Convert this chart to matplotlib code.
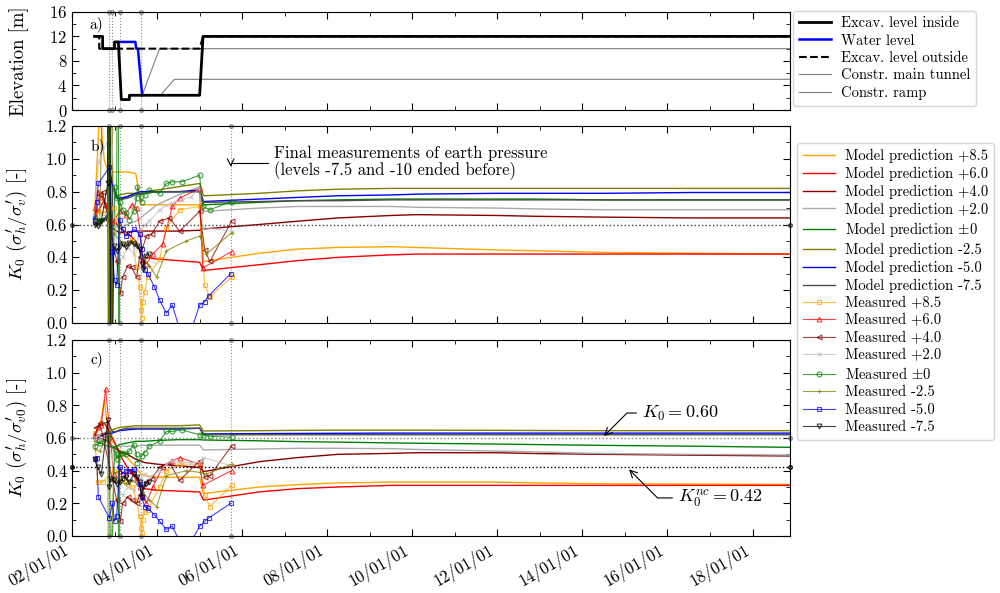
import numpy as np
import matplotlib
matplotlib.use("Agg")
import matplotlib.pyplot as plt
import matplotlib.dates as mdates
from datetime import datetime, timedelta

plt.rcParams['font.family'] = ['cmr10', 'DejaVu Serif']
plt.rcParams['mathtext.fontset'] = 'cm'
plt.rcParams['axes.formatter.use_mathtext'] = True
plt.rcParams['axes.unicode_minus'] = False

# ---- panel a: construction stages (decimal years, elevation in m)
t_exc_in = [2002.53, 2002.72, 2002.72, 2003.00, 2003.00, 2003.09, 2003.16, 2003.35, 2003.35, 2005.00, 2005.08, 2018.88]
z_exc_in = [12.0, 12.0, 10.0, 10.0, 11.1, 11.1, 1.7, 1.7, 2.4, 2.4, 12.0, 12.0]
t_water = [2003.12, 2003.49, 2003.51, 2003.55, 2003.60, 2003.65]
z_water = [11.1, 11.1, 10.0, 10.0, 6.2, 2.4]
t_exc_out = [2002.53, 2002.64, 2002.64, 2005.00, 2005.08, 2018.88]
z_exc_out = [12.0, 12.0, 10.0, 10.0, 12.0, 12.0]
t_tunnel = [2003.65, 2004.06, 2018.88]
z_tunnel = [2.4, 10.0, 10.0]
t_ramp = [2004.08, 2004.41, 2018.88]
z_ramp = [2.4, 5.0, 5.0]

events_a = [2002.88, 2002.93, 2003.14, 2003.63]
events_bc = [2002.88, 2003.14, 2003.63, 2005.73]

levels = ['+8.5', '+6.0', '+4.0', '+2.0', r'$\pm$0', '-2.5', '-5.0', '-7.5']
mod_colors = ['orange', 'red', 'darkred', 'darkgray', 'green', 'olive', 'blue', '0.3']
meas_colors = ['orange', 'red', 'darkred', 'silver', 'green', 'olive', 'blue', 'black']
meas_markers = ['s', '^', '<', 'x', 'o', '+', 's', 'v']

# ---- model predictions (common time grid)
t_model = [2002.53, 2002.65, 2002.76, 2002.84, 2002.88, 2002.91, 2002.95, 2003.05, 2003.12,
           2003.30, 2003.50, 2003.62, 2003.70, 2004.00, 2004.50, 2005.00, 2005.09, 2006.40,
           2007.30, 2008.25, 2009.50, 2010.10, 2012.00, 2012.90, 2014.50, 2016.60, 2018.88]

mb_85 = [0.66, 1.30, 0.99, 0.93, 0.92, 0.92, 0.92, 0.92, 0.92, 0.92, 0.91, 0.72, 0.72, 0.72, 0.72, 0.72, 0.374, 0.425, 0.45, 0.46, 0.465, 0.46, 0.445, 0.44, 0.43, 0.425, 0.42]
mb_60 = [0.62, 0.70, 0.75, 0.68, 0.65, 0.63, 0.62, 0.60, 0.58, 0.55, 0.50, 0.42, 0.40, 0.39, 0.38, 0.37, 0.32, 0.355, 0.38, 0.40, 0.415, 0.42, 0.42, 0.42, 0.42, 0.42, 0.42]
mb_40 = [0.60, 0.62, 0.64, 0.62, 0.60, 0.60, 0.58, 0.56, 0.55, 0.55, 0.56, 0.56, 0.56, 0.56, 0.56, 0.565, 0.573, 0.60, 0.62, 0.64, 0.655, 0.66, 0.655, 0.65, 0.645, 0.64, 0.64]
mb_20 = [0.62, 0.63, 0.64, 0.65, 0.62, 0.62, 0.60, 0.58, 0.58, 0.60, 0.62, 0.64, 0.66, 0.72, 0.78, 0.83, 0.68, 0.70, 0.71, 0.71, 0.71, 0.705, 0.70, 0.695, 0.69, 0.69, 0.69]
mb_00 = [0.62, 0.62, 0.63, 0.65, 3.00, -1.0, 0.85, 0.76, 0.75, 0.77, 0.79, 0.78, 0.79, 0.80, 0.80, 0.80, 0.72, 0.735, 0.745, 0.75, 0.755, 0.755, 0.755, 0.755, 0.75, 0.75, 0.75]
mb_m25 = [0.62, 0.62, 0.63, 0.66, -1.0, 3.00, 0.85, 0.78, 0.78, 0.79, 0.79, 0.79, 0.80, 0.81, 0.83, 0.85, 0.775, 0.79, 0.805, 0.815, 0.82, 0.82, 0.82, 0.82, 0.82, 0.82, 0.82]
mb_m50 = [0.62, 0.62, 0.63, 0.66, 0.95, 0.90, 0.83, 0.77, 0.76, 0.77, 0.79, 0.80, 0.80, 0.80, 0.80, 0.81, 0.74, 0.755, 0.765, 0.775, 0.78, 0.785, 0.79, 0.79, 0.79, 0.795, 0.795]
mb_m75 = [0.60, 0.61, 0.62, 0.65, 3.00, -1.0, 0.83, 0.76, 0.75, 0.76, 0.78, 0.79, 0.79, 0.80, 0.80, 0.80, 0.735, 0.74, 0.745, 0.745, 0.75, 0.75, 0.75, 0.75, 0.75, 0.75, 0.75]

mc_85 = [0.63, 0.66, 0.83, 0.66, 0.62, 0.60, 0.58, 0.55, 0.52, 0.48, 0.42, 0.38, 0.37, 0.36, 0.36, 0.36, 0.26, 0.30, 0.315, 0.325, 0.33, 0.33, 0.33, 0.325, 0.32, 0.318, 0.316]
mc_60 = [0.66, 0.68, 0.69, 0.66, 0.64, 0.62, 0.60, 0.55, 0.50, 0.42, 0.35, 0.31, 0.29, 0.28, 0.275, 0.27, 0.22, 0.27, 0.29, 0.30, 0.31, 0.31, 0.31, 0.31, 0.31, 0.31, 0.31]
mc_40 = [0.60, 0.60, 0.59, 0.58, 0.57, 0.56, 0.55, 0.53, 0.52, 0.50, 0.47, 0.46, 0.45, 0.44, 0.43, 0.42, 0.394, 0.455, 0.48, 0.50, 0.506, 0.51, 0.51, 0.505, 0.50, 0.495, 0.49]
mc_20 = [0.60, 0.59, 0.58, 0.57, 0.56, 0.56, 0.55, 0.55, 0.55, 0.55, 0.55, 0.555, 0.555, 0.556, 0.556, 0.556, 0.527, 0.533, 0.537, 0.537, 0.535, 0.53, 0.52, 0.515, 0.505, 0.50, 0.496]
mc_00 = [0.58, 0.57, 0.56, 0.55, 0.55, 0.55, 0.54, 0.55, 0.56, 0.57, 0.58, 0.58, 0.58, 0.585, 0.59, 0.59, 0.588, 0.583, 0.578, 0.575, 0.57, 0.568, 0.563, 0.56, 0.555, 0.55, 0.543]
mc_m25 = [0.62, 0.62, 0.63, 0.64, 0.64, 0.64, 0.65, 0.66, 0.665, 0.67, 0.675, 0.675, 0.675, 0.675, 0.675, 0.68, 0.643, 0.645, 0.647, 0.648, 0.648, 0.648, 0.647, 0.646, 0.645, 0.645, 0.645]
mc_m50 = [0.60, 0.61, 0.62, 0.63, 0.63, 0.63, 0.63, 0.64, 0.645, 0.65, 0.655, 0.655, 0.655, 0.655, 0.655, 0.66, 0.625, 0.627, 0.628, 0.629, 0.63, 0.63, 0.63, 0.63, 0.63, 0.63, 0.63]
mc_m75 = [0.66, 0.68, 0.69, 0.70, 0.68, 0.66, 0.64, 0.64, 0.65, 0.66, 0.66, 0.66, 0.66, 0.66, 0.66, 0.66, 0.62, 0.62, 0.62, 0.62, 0.62, 0.62, 0.62, 0.62, 0.62, 0.62, 0.62]

# ---- measurements (times shared by panel b and c)
t_85 = [2002.53, 2002.60, 2002.72, 2002.98, 2003.09, 2003.26, 2003.42, 2003.52, 2003.59, 2003.62, 2003.64,
        2003.66, 2003.71, 2003.78, 2004.06, 2004.22, 2004.53, 2005.00, 2005.12, 2005.24, 2005.75]
kb_85 = [0.66, 0.68, 0.67, 0.70, 0.62, 0.55, 0.50, 0.34, 0.22, 0.08, 0.03, 0.13, 0.19, 0.28, 0.39, 0.58, 0.69, 0.71, 0.23, 0.16, 0.28]
kc_85 = [0.63, 0.33, 0.33, 0.40, 0.35, 0.33, 0.30, 0.22, 0.12, 0.05, 0.02, 0.10, 0.15, 0.16, 0.30, 0.40, 0.44, 0.44, 0.25, 0.18, 0.31]

t_60 = [2002.53, 2002.62, 2002.69, 2002.79, 2002.98, 2003.12, 2003.26, 2003.40, 2003.52, 2003.61,
        2003.66, 2003.75, 2003.90, 2004.13, 2004.36, 2004.53, 2005.00, 2005.07, 2005.75]
kb_60 = [0.70, 0.80, 0.77, 0.72, 0.62, 0.68, 0.66, 0.72, 0.70, 0.55, 0.38, 0.36, 0.42, 0.48, 0.71, 0.76, 0.82, 0.335, 0.435]
kc_60 = [0.62, 0.67, 0.68, 0.90, 0.38, 0.40, 0.38, 0.40, 0.35, 0.30, 0.24, 0.20, 0.30, 0.42, 0.46, 0.48, 0.44, 0.31, 0.40]

t_40 = [2002.53, 2002.65, 2002.72, 2003.05, 2003.14, 2003.19, 2003.31, 2003.40, 2003.52, 2003.59,
        2003.75, 2003.87, 2004.06, 2004.29, 2004.53, 2005.00, 2005.12, 2005.24, 2005.75]
kb_40 = [0.62, 0.78, 0.80, 0.38, 0.18, 0.28, 0.35, 0.34, 0.28, 0.40, 0.53, 0.54, 0.62, 0.64, 0.56, 0.68, 0.445, 0.375, 0.62]
kc_40 = [0.60, 0.69, 0.62, 0.22, 0.09, 0.20, 0.24, 0.22, 0.20, 0.25, 0.33, 0.35, 0.42, 0.45, 0.34, 0.46, 0.36, 0.37, 0.55]

t_20 = [2002.53, 2002.62, 2002.93, 2003.05, 2003.19, 2003.31, 2003.45, 2003.59, 2003.71, 2003.82,
        2004.06, 2004.22, 2004.36, 2004.58, 2004.81, 2005.00, 2005.09, 2005.75]
kb_20 = [0.62, 0.98, 1.17, 0.45, 0.40, 0.46, 0.42, 0.55, 0.60, 0.62, 0.69, 0.72, 0.73, 0.75, 0.77, 0.82, 0.58, 0.56]
kc_20 = [0.60, 0.62, 0.50, 0.30, 0.25, 0.30, 0.28, 0.35, 0.38, 0.36, 0.40, 0.44, 0.46, 0.45, 0.45, 0.45, 0.48, 0.43]

t_00 = [2002.53, 2002.65, 2002.86, 2002.88, 2002.91, 2003.00, 2003.05, 2003.09, 2003.10, 2003.12, 2003.19,
        2003.26, 2003.35, 2003.45, 2003.52, 2003.54, 2003.64, 2003.71, 2003.82, 2004.06, 2004.22,
        2004.36, 2004.58, 2005.00, 2005.07, 2005.24, 2005.75]
kb_00 = [0.64, 0.62, 0.65, 3.00, -1.0, 0.83, 0.76, 3.00, -1.0, 0.74, 0.69, 0.67, 0.63, 0.68, 0.76, 0.83,
         0.74, 0.78, 0.81, 0.79, 0.85, 0.86, 0.86, 0.90, 0.71, 0.69, 0.74]
kc_00 = [0.55, 0.57, 0.60, 0.62, -0.5, 0.53, 0.47, 0.50, -0.5, 0.50, 0.51, 0.50, 0.52, 0.56, 0.50, 0.45,
         0.49, 0.51, 0.55, 0.58, 0.64, 0.64, 0.65, 0.62, 0.62, 0.61, 0.605]

t_m25 = [2002.53, 2002.65, 2002.84, 2002.86, 2002.98, 2003.12, 2003.26, 2003.40, 2003.54, 2003.66,
         2003.82, 2003.99, 2004.22, 2004.69, 2005.00, 2005.16, 2005.75]
kb_m25 = [0.62, 0.60, 3.00, -1.0, 0.55, 0.50, 0.48, 0.50, 0.47, 0.40, 0.35, 0.28, 0.44, 0.50, 0.53, 0.42, 0.55]
kc_m25 = [0.53, 0.52, 0.60, -0.5, 0.35, 0.33, 0.32, 0.34, 0.32, 0.27, 0.22, 0.18, 0.37, 0.40, 0.39, 0.38, 0.44]

t_m50 = [2002.53, 2002.58, 2002.62, 2002.88, 2002.95, 2003.00, 2003.05, 2003.12, 2003.19, 2003.26, 2003.35,
         2003.47, 2003.59, 2003.64, 2003.71, 2003.78, 2003.94, 2004.06, 2004.22, 2004.36, 2004.58,
         2004.81, 2005.00, 2005.12, 2005.21, 2005.73]
kb_m50 = [0.63, 0.74, 0.85, 0.95, 0.43, 0.26, 0.23, 0.63, 0.57, 0.53, 0.55, 0.57, 0.54, 0.45, 0.32, 0.30,
          0.22, 0.14, 0.06, 0.11, -0.08, -0.04, 0.11, 0.13, 0.165, 0.30]
kc_m50 = [0.47, 0.48, 0.24, 0.11, 0.20, 0.09, 0.12, 0.42, 0.38, 0.40, 0.40, 0.41, 0.32, 0.24, 0.18, 0.17,
          0.13, 0.09, 0.04, 0.06, -0.06, -0.03, 0.06, 0.09, 0.11, 0.20]

t_m75 = [2002.53, 2002.60, 2002.69, 2002.84, 2002.88, 2002.91, 2002.98, 2003.05, 2003.12, 2003.19,
         2003.26, 2003.35, 2003.45, 2003.54, 2003.59, 2003.64, 2003.68, 2003.73, 2003.80]
kb_m75 = [0.60, 0.59, 0.62, 0.85, 3.00, -1.0, 0.47, 0.44, 0.47, 0.48, 0.46, 0.49, 0.48, 0.47, 0.45, 0.36, 0.33, 0.41, 0.42]
kc_m75 = [0.47, 0.42, 0.38, 0.71, 0.30, 0.35, 0.34, 0.32, 0.33, 0.35, 0.36, 0.33, 0.38, 0.36, 0.33, 0.24, 0.30, 0.32, 0.33]


def dates(vals):
    return [datetime(int(v), 1, 1) + timedelta(days=(v % 1) * 365.25) for v in vals]


x0, x1 = datetime(2002, 1, 1), dates([2018.88])[0]

fig = plt.figure(figsize=(10, 5.93), dpi=100)
ax_a = fig.add_axes([0.072, 0.8145, 0.718, 0.1655])
ax_b = fig.add_axes([0.072, 0.4553, 0.718, 0.3322], sharex=ax_a)
ax_c = fig.add_axes([0.072, 0.0961, 0.718, 0.3305], sharex=ax_a)

leg_kw = dict(loc='upper left', bbox_transform=fig.transFigure, fontsize=10.5, handlelength=2.2,
              labelspacing=0.25, borderaxespad=0, handletextpad=0.7)

# panel a
ax_a.plot(dates(t_exc_in), z_exc_in, color='k', lw=2, label='Excav. level inside', zorder=4)
ax_a.plot(dates(t_water), z_water, color='blue', lw=1.8, label='Water level', zorder=3)
ax_a.plot(dates(t_exc_out), z_exc_out, color='k', lw=1.5, ls='--', label='Excav. level outside', zorder=3)
ax_a.plot(dates(t_tunnel), z_tunnel, color='0.5', lw=0.8, label='Constr. main tunnel')
ax_a.plot(dates(t_ramp), z_ramp, color='0.5', lw=0.8, label='Constr. ramp')
ax_a.set_ylim(0, 16)
ax_a.set_yticks([0, 4, 8, 12, 16])
ax_a.yaxis.set_minor_locator(plt.MultipleLocator(2))
ax_a.set_ylabel('Elevation [m]', fontsize=13.5)
ax_a.text(0.034, 0.87, 'a)', transform=ax_a.transAxes, fontsize=11, ha='center', va='center')
ax_a.legend(bbox_to_anchor=(0.793, 0.982), **leg_kw)

# panel b and c
mod_b = [mb_85, mb_60, mb_40, mb_20, mb_00, mb_m25, mb_m50, mb_m75]
mod_c = [mc_85, mc_60, mc_40, mc_20, mc_00, mc_m25, mc_m50, mc_m75]
t_meas = [t_85, t_60, t_40, t_20, t_00, t_m25, t_m50, t_m75]
meas_b = [kb_85, kb_60, kb_40, kb_20, kb_00, kb_m25, kb_m50, kb_m75]
meas_c = [kc_85, kc_60, kc_40, kc_20, kc_00, kc_m25, kc_m50, kc_m75]

tm = dates(t_model)
for ax, mods, meas in [(ax_b, mod_b, meas_b), (ax_c, mod_c, meas_c)]:
    for lev, col, k in zip(levels, mod_colors, mods):
        ax.plot(tm, k, color=col, lw=1.0, label='Model prediction ' + lev)
    for lev, col, mk, t, k in zip(levels, meas_colors, meas_markers, t_meas, meas):
        ax.plot(dates(t), k, color=col, lw=0.8, marker=mk, ms=3.5, mfc='none', mew=0.8,
                alpha=0.75, label='Measured ' + lev)
    ax.set_ylim(0, 1.2)
    ax.set_yticks(np.arange(0, 1.21, 0.2))
    ax.yaxis.set_major_formatter(plt.FormatStrFormatter('%.1f'))
    ax.yaxis.set_minor_locator(plt.MultipleLocator(0.1))

ax_b.plot([x0, x1], [0.6, 0.6], ls=':', color='0.25', lw=1.0, marker='o', ms=2.5, mfc='none', clip_on=False)
ax_c.plot([x0, x1], [0.6, 0.6], ls=':', color='0.5', lw=1.0, marker='o', ms=2.5, mfc='none', clip_on=False)
ax_c.plot([x0, x1], [0.42, 0.42], ls=':', color='k', lw=1.0, marker='o', ms=2.5, mfc='none', clip_on=False)

ax_b.set_ylabel(r"$K_0\ (\sigma_h^{\prime}/\sigma_v^{\prime})$ [-]", fontsize=13.5)
ax_c.set_ylabel(r"$K_0\ (\sigma_h^{\prime}/\sigma_{v0}^{\prime})$ [-]", fontsize=13.5)
ax_b.text(0.036, 0.9, 'b)', transform=ax_b.transAxes, fontsize=11, ha='center', va='center')
ax_c.text(0.035, 0.9, 'c)', transform=ax_c.transAxes, fontsize=11, ha='center', va='center')

ax_b.legend(bbox_to_anchor=(0.797, 0.759), **leg_kw)

# event lines
for ax, evs, (lo, hi) in [(ax_a, events_a, (0, 16)), (ax_b, events_bc, (0, 1.2)), (ax_c, events_bc, (0, 1.2))]:
    for d in dates(evs):
        ax.plot([d, d], [lo, hi], ls=':', color='0.55', lw=0.8, marker='o', ms=2.5,
                mfc='none', clip_on=False, zorder=1)

ax_b.annotate('Final measurements of earth pressure\n(levels -7.5 and -10 ended before)',
              xy=(dates([2005.73])[0], 0.935), xytext=(dates([2006.74])[0], 0.975),
              ha='left', va='center', fontsize=12, linespacing=1.05,
              arrowprops=dict(arrowstyle='->', color='k', lw=0.8,
                              connectionstyle='angle,angleA=0,angleB=90,rad=0'))
ax_c.annotate(r'$K_0 = 0.60$', xy=(dates([2014.46])[0], 0.60), xytext=(dates([2015.40])[0], 0.753),
              ha='left', va='center', fontsize=13,
              arrowprops=dict(arrowstyle='->', color='k', lw=0.8,
                              connectionstyle='angle,angleA=0,angleB=45,rad=0'))
ax_c.annotate(r'$K_0^{nc} = 0.42$', xy=(dates([2015.05])[0], 0.42), xytext=(dates([2016.25])[0], 0.233),
              ha='left', va='center', fontsize=13,
              arrowprops=dict(arrowstyle='->', color='k', lw=0.8,
                              connectionstyle='angle,angleA=0,angleB=-45,rad=0'))

for ax in (ax_a, ax_b, ax_c):
    ax.set_xlim(x0, x1)
    ax.tick_params(which='both', direction='in', top=True, right=True, labelsize=12)
    ax.tick_params(which='major', length=5)
    ax.tick_params(which='minor', length=3)
    ax.yaxis.set_label_coords(-0.06, 0.5)

ax_c.xaxis.set_major_locator(mdates.YearLocator(2))
ax_c.xaxis.set_minor_locator(mdates.YearLocator(1))
ax_c.xaxis.set_major_formatter(mdates.DateFormatter('%y/%m/%d'))
plt.setp(ax_a.get_xticklabels(), visible=False)
plt.setp(ax_b.get_xticklabels(), visible=False)
plt.setp(ax_c.get_xticklabels(), rotation=30, ha='right')

fig.savefig('out.png', dpi=100)
